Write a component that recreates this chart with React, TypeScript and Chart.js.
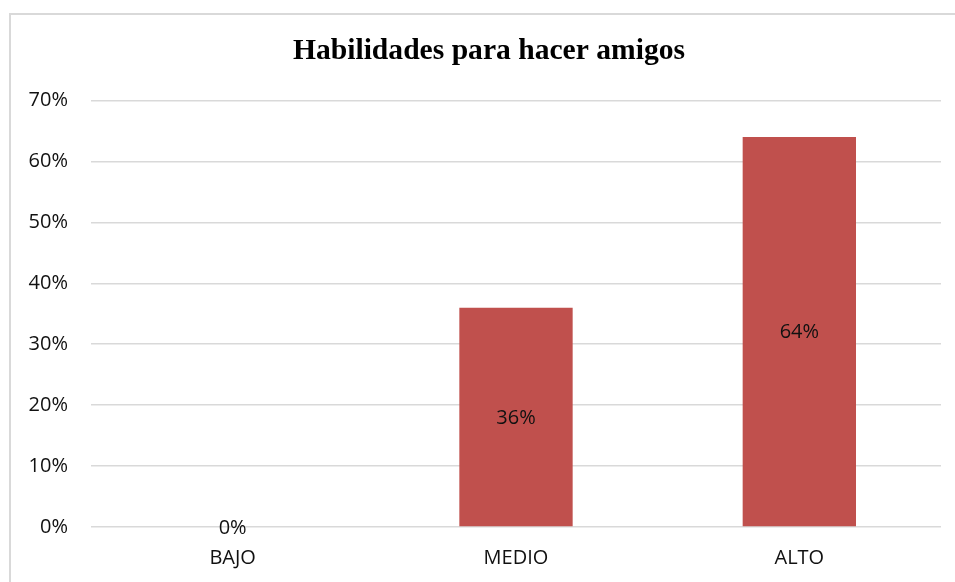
import React, { useEffect, useRef } from "react";
import { Chart, registerables } from "chart.js";

Chart.register(...registerables);

const categories = ["BAJO", "MEDIO", "ALTO"];
const values = [0, 36, 64];
const yTicks = [0, 10, 20, 30, 40, 50, 60, 70];
const title = "Habilidades para hacer amigos";

const TITLE_SIZE = 29.6;
const TITLE_PAD_TOP = 34;

const frame = {
  id: "frame",
  beforeDraw(chart: any) {
    const { ctx, width, height } = chart;
    ctx.save();
    ctx.fillStyle = "#ffffff";
    ctx.fillRect(0, 0, width, height);
    ctx.strokeStyle = "#D9D9D9";
    ctx.lineWidth = 2;
    ctx.beginPath();
    ctx.moveTo(10, height);
    ctx.lineTo(10, 14);
    ctx.lineTo(width, 14);
    ctx.stroke();
    ctx.restore();
  },
};

// Title centred on the (wider) chart frame, as in the original
const frameTitle = {
  id: "frameTitle",
  afterDraw(chart: any) {
    const { ctx } = chart;
    const tb = chart.titleBlock;
    ctx.save();
    ctx.font = `bold ${TITLE_SIZE}px 'Liberation Serif'`;
    ctx.fillStyle = "#000";
    ctx.textAlign = "center";
    ctx.textBaseline = "middle";
    const x = 489;
    const y = tb.top + TITLE_PAD_TOP + (TITLE_SIZE * 1.2) / 2;
    ctx.fillText(title, x, y);
    ctx.restore();
  },
};

const barLabels = {
  id: "barLabels",
  afterDatasetsDraw(chart: any) {
    const { ctx } = chart;
    const meta = chart.getDatasetMeta(0);
    ctx.save();
    ctx.font = "20px 'Open Sans'";
    ctx.fillStyle = "#111";
    ctx.textAlign = "center";
    ctx.textBaseline = "middle";
    meta.data.forEach((bar: any, i: number) => {
      const y = (bar.y + bar.base) / 2;
      ctx.fillText(values[i] + "%", bar.x, y + 1);
    });
    ctx.restore();
  },
};

export default function App() {
  const ref = useRef<HTMLCanvasElement>(null);
  useEffect(() => {
    if (!ref.current) return;
    const chart = new Chart(ref.current, {
      type: "bar",
      data: {
        labels: categories,
        datasets: [
          {
            data: values,
            backgroundColor: "#C0504D",
            barPercentage: 0.4,
            categoryPercentage: 1,
          },
        ],
      },
      options: {
        animation: false,
        responsive: false,
        layout: { padding: { left: 20, right: 14, top: 0, bottom: 10 } },
        plugins: {
          legend: { display: false },
          tooltip: { enabled: false },
          title: {
            display: true,
            text: title,
            color: "rgba(0,0,0,0)",
            font: { family: "'Liberation Serif'", size: TITLE_SIZE, weight: "bold" },
            padding: { top: TITLE_PAD_TOP, bottom: 31 },
          },
        },
        scales: {
          x: {
            grid: { display: false, drawTicks: false },
            border: { display: false },
            afterFit(scale: any) {
              scale.height = 45;
            },
            ticks: {
              color: "#111",
              font: { family: "'Open Sans'", size: 20 },
              padding: 19,
            },
          },
          y: {
            min: 0,
            max: 70,
            afterBuildTicks(scale: any) {
              scale.ticks = yTicks.map((v) => ({ value: v }));
            },
            afterFit(scale: any) {
              scale.width = 71;
            },
            grid: { color: "#D9D9D9", lineWidth: 1.5, drawTicks: false },
            border: { display: false },
            ticks: {
              color: "#111",
              font: { family: "'Open Sans'", size: 20 },
              padding: 23,
              callback: (v: any) => v + "%",
            },
          },
        },
      },
      plugins: [frame, barLabels, frameTitle],
    });
    return () => chart.destroy();
  }, []);
  return (
    <div style={{ position: "fixed", left: 0, top: 0, width: 955, height: 582 }}>
      <canvas ref={ref} width={955} height={582} />
    </div>
  );
}
